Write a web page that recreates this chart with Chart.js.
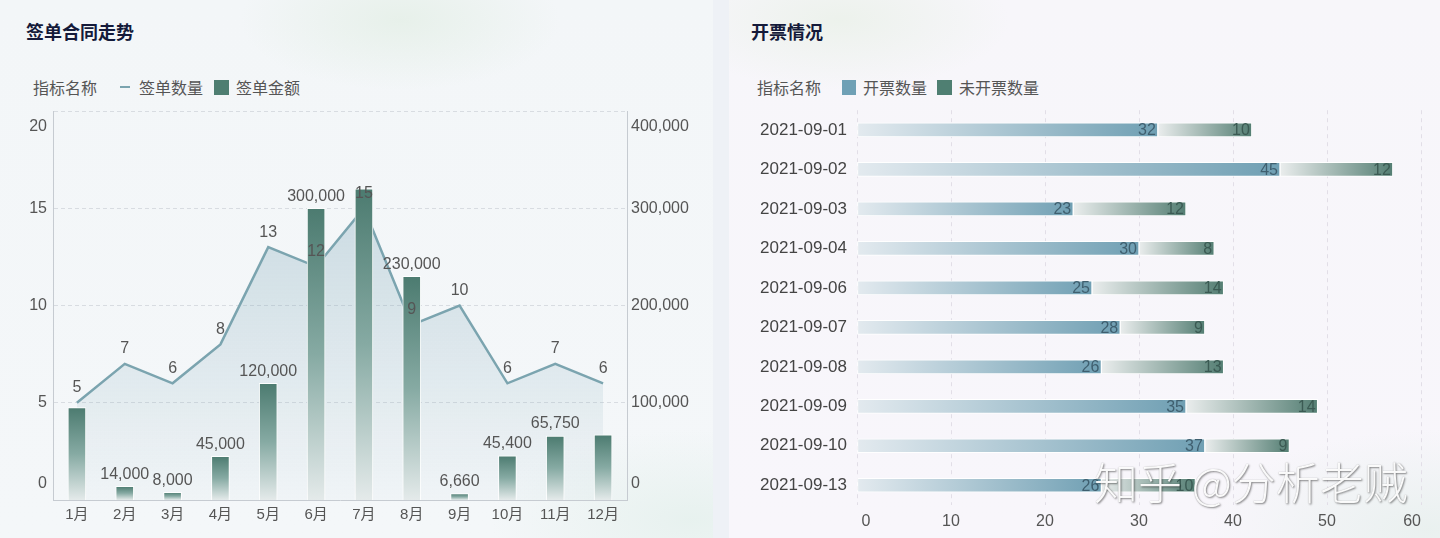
<!DOCTYPE html>
<html>
<head>
<meta charset="utf-8">
<script src="https://cdn.jsdelivr.net/npm/chart.js@4.4.0/dist/chart.umd.min.js"></script>
<style>
  body {
    margin: 0;
    width: 1440px;
    height: 538px;
    overflow: hidden;
    position: relative;
    background: #eef1f6;
    font-family: "Liberation Sans", "Noto Sans CJK SC", sans-serif;
  }
  .panel { position: absolute; top: 0; height: 538px; }
  #leftPanel {
    left: 0; width: 713px;
    background:
      radial-gradient(ellipse 160px 70px at 400px 20px, rgba(226,238,228,0.7), rgba(226,238,228,0)),
      radial-gradient(ellipse 200px 90px at 690px 520px, rgba(228,240,236,0.8), rgba(228,240,236,0)),
      linear-gradient(180deg, #f3f6f8, #f4f7f9);
  }
  #rightPanel {
    left: 729px; width: 711px;
    background:
      radial-gradient(ellipse 170px 70px at 110px 20px, rgba(232,240,230,0.7), rgba(232,240,230,0)),
      radial-gradient(ellipse 220px 100px at 700px 530px, rgba(232,240,238,0.9), rgba(232,240,238,0)),
      linear-gradient(180deg, #f7f6fa, #f8f6fb);
  }
  .title {
    position: absolute; top: 18px;
    font-family: "Noto Sans CJK SC", sans-serif;
    font-size: 18px; font-weight: bold; color: #141a3a;
  }
  .legend {
    position: absolute; top: 76px; height: 22px;
    display: flex; align-items: center;
    font-family: "Noto Sans CJK SC", sans-serif;
    font-size: 16px; color: #555;
  }
  .legend .sw { display: inline-block; width: 15px; height: 15px; margin: 0 7px 0 0; }
  .legend .ln { display: inline-block; width: 10px; height: 2px; margin: 0 9px 0 0; }
  .box { position: absolute; }
  #mark {
    position: absolute; left: 1094px; top: 456px;
    font-family: "Noto Sans CJK SC", sans-serif;
    font-size: 44px; line-height: 50px; font-weight: 300;
    color: rgba(255,255,255,0.95);
    text-shadow: 1px 1px 2px rgba(0,0,0,0.45), 0 0 1px rgba(0,0,0,0.3);
    white-space: pre;
  }
</style>
</head>
<body>
<div class="panel" id="leftPanel"></div>
<div class="panel" id="rightPanel"></div>

<div class="title" style="left:26px">签单合同走势</div>
<div class="legend" style="left:33px">
  <span style="margin-right:23px">指标名称</span>
  <span class="ln" style="background:#7ba4af"></span><span style="margin-right:11px">签单数量</span>
  <span class="sw" style="background:#4e7e71"></span><span>签单金额</span>
</div>

<div class="title" style="left:751px">开票情况</div>
<div class="legend" style="left:757px">
  <span style="margin-right:21px">指标名称</span>
  <span class="sw" style="background:#6fa0b5;width:14px"></span><span style="margin-right:10px">开票数量</span>
  <span class="sw" style="background:#4f7f72"></span><span>未开票数量</span>
</div>

<div class="box" style="left:0;top:73px;width:715px;height:465px"><canvas id="signChart"></canvas></div>
<div class="box" style="left:730px;top:90px;width:720px;height:448px"><canvas id="invoiceChart"></canvas></div>

<div id="mark">知乎 @分析老贼</div>

<script>
// data
const months = ['1月', '2月', '3月', '4月', '5月', '6月', '7月', '8月', '9月', '10月', '11月', '12月'];
const signCount = [5, 7, 6, 8, 13, 12, 15, 9, 10, 6, 7, 6];
const signAmount = [95000, 14000, 8000, 45000, 120000, 300000, 320000, 230000, 6660, 45400, 65750, 67000];

const invoiceDates = ['2021-09-01', '2021-09-02', '2021-09-03', '2021-09-04', '2021-09-06',
  '2021-09-07', '2021-09-08', '2021-09-09', '2021-09-10', '2021-09-13'];
const invoiced = [32, 45, 23, 30, 25, 28, 26, 35, 37, 26];
const notInvoiced = [10, 12, 12, 8, 14, 9, 13, 14, 9, 10];

Chart.defaults.font.family = '"Liberation Sans", "Noto Sans CJK SC", sans-serif';
Chart.defaults.color = '#555';
Chart.defaults.animation = false;

// gradient helper, falls back to a flat colour until the scales have pixels
function gradient(ctx, x0, y0, x1, y1, stops, fallback) {
  if (![x0, y0, x1, y1].every(Number.isFinite)) return fallback;
  const g = ctx.createLinearGradient(x0, y0, x1, y1);
  stops.forEach(([p, col]) => g.addColorStop(p, col));
  return g;
}

// echarts pulls the first/last value-axis labels inside the plot, an empty extra line does the same here
function insetEnds(v, i, ticks) {
  const text = v.toLocaleString('en-US');
  if (i === ticks.length - 1) return ['', text];
  if (i === 0) return [text, ''];
  return text;
}

// draws the value labels, skipping ones that would overlap an earlier label (like echarts does)
const valueLabels = {
  id: 'valueLabels',
  afterDatasetsDraw(chart, args, opts) {
    const ctx = chart.ctx;
    const taken = [];
    ctx.save();
    ctx.textBaseline = 'middle';
    chart.data.datasets.forEach((ds, di) => {
      if (!ds.showValues) return;
      const meta = chart.getDatasetMeta(di);
      ctx.font = ds.valueFont || '16px ' + Chart.defaults.font.family;
      ctx.fillStyle = ds.valueColor || '#555';
      meta.data.forEach((el, i) => {
        const text = ds.data[i].toLocaleString('en-US');
        const w = ctx.measureText(text).width;
        let x, y, box;
        if (ds.valueAt === 'insideEnd') {
          ctx.textAlign = 'right';
          x = el.x - 2;
          y = el.y + 1;
          box = { l: x - w, r: x, t: y - 8, b: y + 8 };
        } else {
          ctx.textAlign = 'center';
          x = el.x;
          y = el.y - (ds.valueOffset || 12);
          box = { l: x - w / 2, r: x + w / 2, t: y - 9, b: y + 9 };
        }
        if (opts.hideOverlap && taken.some(b => b.l < box.r && box.l < b.r && b.t < box.b && box.t < b.b)) return;
        taken.push(box);
        ctx.fillText(text, x, y);
      });
    });
    ctx.restore();
  }
};

// ---- left chart: 签单合同走势 ----
new Chart(document.getElementById('signChart'), {
  data: {
    labels: months,
    datasets: [
      {
        type: 'line',
        label: '签单数量',
        data: signCount,
        yAxisID: 'y',
        order: 1,
        borderColor: '#7ba4af',
        borderWidth: 2.5,
        tension: 0,
        pointRadius: 0,
        fill: 'origin',
        backgroundColor(c) {
          const { chartArea, ctx } = c.chart;
          if (!chartArea) return 'rgba(122,165,180,0.2)';
          return gradient(ctx, 0, chartArea.top, 0, chartArea.bottom,
            [[0, 'rgba(122,165,182,0.42)'], [1, 'rgba(122,165,182,0.03)']], 'rgba(122,165,180,0.2)');
        },
        showValues: true,
        valueOffset: 15,
        valueColor: '#555',
      },
      {
        type: 'bar',
        label: '签单金额',
        data: signAmount,
        yAxisID: 'y1',
        order: 0,
        barThickness: 18,
        borderWidth: 1,
        borderColor: 'rgba(255,255,255,0.9)',
        borderSkipped: 'bottom',
        backgroundColor(c) {
          const s = c.chart.scales.y1;
          if (!s || c.dataIndex === undefined) return '#4e7e71';
          const top = s.getPixelForValue(signAmount[c.dataIndex]);
          const base = s.getPixelForValue(0);
          return gradient(c.chart.ctx, 0, top, 0, base,
            [[0, '#4c7b70'], [0.5, '#86aaa3'], [1, '#e4eaea']], '#4e7e71');
        },
        showValues: true,
        valueOffset: 12,
        valueColor: '#555',
      },
    ],
  },
  options: {
    responsive: true,
    maintainAspectRatio: false,
    layout: { padding: 0 },
    plugins: {
      legend: { display: false },
      tooltip: { enabled: false },
      valueLabels: { hideOverlap: true },
    },
    scales: {
      x: {
        offset: true,
        grid: { display: false, drawTicks: false },
        border: { display: true, color: '#c6cbd1' },
        ticks: { font: { size: 15 }, color: '#555', padding: 6, maxRotation: 0, autoSkip: false },
        afterFit: s => { s.height = 38; },
      },
      y: {
        position: 'left',
        min: 0, max: 20,
        ticks: { stepSize: 5, font: { size: 16, lineHeight: 2 }, color: '#555', padding: 6, callback: insetEnds },
        grid: { color: '#d8dce1', drawTicks: false },
        border: { display: true, color: '#c6cbd1', dash: [4, 3] },
        afterFit: s => { s.width = 53; },
      },
      y1: {
        position: 'right',
        min: 0, max: 400000,
        ticks: { stepSize: 100000, font: { size: 16, lineHeight: 2 }, color: '#555', padding: 4, callback: insetEnds },
        grid: { display: false, drawTicks: false },
        border: { display: true, color: '#c6cbd1' },
        afterFit: s => { s.width = 88; },
      },
    },
  },
  plugins: [valueLabels],
});

// ---- right chart: 开票情况 ----
function rowGradient(c, from, to, c0, c1) {
  const s = c.chart.scales.x;
  if (!s || c.dataIndex === undefined) return c1;
  return gradient(c.chart.ctx, s.getPixelForValue(from), 0, s.getPixelForValue(to), 0, [[0, c0], [1, c1]], c1);
}

new Chart(document.getElementById('invoiceChart'), {
  type: 'bar',
  data: {
    labels: invoiceDates,
    datasets: [
      {
        label: '开票数量',
        data: invoiced,
        barThickness: 14,
        borderWidth: 1,
        borderColor: 'rgba(255,255,255,0.95)',
        borderSkipped: false,
        backgroundColor: c => rowGradient(c, 0, invoiced[c.dataIndex], '#e3eaef', '#6f9fb3'),
        showValues: true,
        valueAt: 'insideEnd',
        valueColor: '#3f5f6f',
      },
      {
        label: '未开票数量',
        data: notInvoiced,
        barThickness: 14,
        borderWidth: 1,
        borderColor: 'rgba(255,255,255,0.95)',
        borderSkipped: false,
        backgroundColor: c => rowGradient(c, invoiced[c.dataIndex],
          invoiced[c.dataIndex] + notInvoiced[c.dataIndex], '#eaeded', '#547e73'),
        showValues: true,
        valueAt: 'insideEnd',
        valueColor: '#3b5a53',
      },
    ],
  },
  options: {
    indexAxis: 'y',
    responsive: true,
    maintainAspectRatio: false,
    // canvas runs a bit past the page edge so the last tick label has room
    layout: { padding: { top: 0, right: 29, left: 0, bottom: 0 } },
    plugins: {
      legend: { display: false },
      tooltip: { enabled: false },
      valueLabels: { hideOverlap: false },
    },
    scales: {
      x: {
        stacked: true,
        min: 0, max: 60,
        ticks: {
          stepSize: 10, font: { size: 16 }, color: '#555', padding: 7,
          // first/last labels sit a little inside, as in the original
          callback: (v, i, ticks) => i === 0 ? '\u2007\u2007' + v : i === ticks.length - 1 ? v + '\u2007\u2007' : String(v),
        },
        grid: { color: '#e2dee7', drawTicks: false },
        border: { display: false, dash: [4, 4] },
        afterFit: s => { s.height = 33; },
      },
      y: {
        stacked: true,
        grid: { display: false, drawTicks: false },
        border: { display: false },
        ticks: { font: { size: 17 }, color: '#444', padding: 10, autoSkip: false },
        afterFit: s => { s.width = 127; },
      },
    },
  },
  plugins: [valueLabels],
});
</script>
</body>
</html>
